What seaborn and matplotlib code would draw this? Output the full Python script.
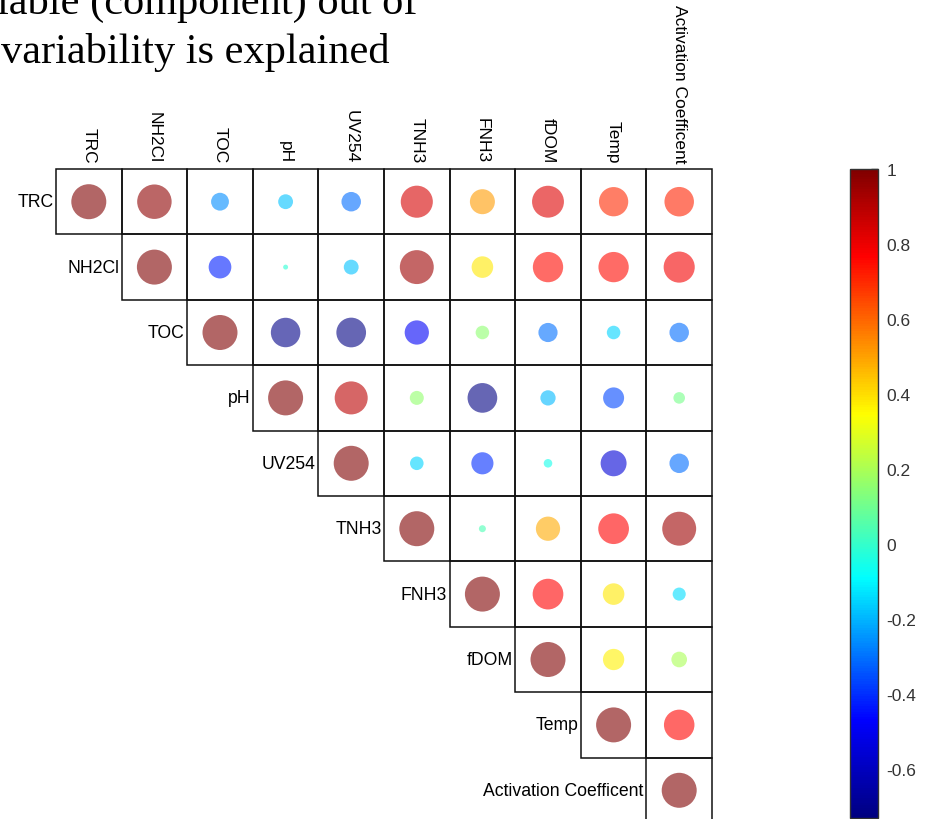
import matplotlib
matplotlib.use('Agg')
import matplotlib.pyplot as plt
import numpy as np
import pandas as pd
import seaborn as sns
from matplotlib.colors import LinearSegmentedColormap, Normalize
from matplotlib.patches import Rectangle
from matplotlib.cm import ScalarMappable

labels = ['TRC', 'NH2Cl', 'TOC', 'pH', 'UV254', 'TNH3', 'FNH3', 'fDOM', 'Temp',
          'Activation Coefficent']

# upper triangle of the correlation matrix, each row starts at the diagonal
r_trc = [1.00, 0.97, -0.26, -0.18, -0.31, 0.84, 0.51, 0.83, 0.70, 0.71]
r_nh2cl = [1.00, -0.42, -0.02, -0.18, 0.94, 0.38, 0.75, 0.75, 0.79]
r_toc = [1.00, -0.71, -0.72, -0.48, 0.15, -0.30, -0.15, -0.31]
r_ph = [1.00, 0.89, 0.16, -0.72, -0.19, -0.36, 0.11]
r_uv254 = [1.00, -0.15, -0.40, -0.06, -0.55, -0.31]
r_tnh3 = [1.00, 0.04, 0.48, 0.77, 0.94]
r_fnh3 = [1.00, 0.77, 0.38, -0.14]
r_fdom = [1.00, 0.37, 0.20]
r_temp = [1.00, 0.76]
r_act = [1.00]
rows = [r_trc, r_nh2cl, r_toc, r_ph, r_uv254, r_tnh3, r_fnh3, r_fdom, r_temp, r_act]

# colour bar range and jet-like anchors
vmin, vmax = -0.73, 1.0
cmap_vals = [-0.73, -0.47, -0.09, 0.345, 0.77, 1.0]
cmap_cols = ['#000080', '#0000ff', '#00ffff', '#ffff00', '#ff0000', '#800000']
cbar_ticks = [1, 0.8, 0.6, 0.4, 0.2, 0, -0.2, -0.4, -0.6]

title1 = 'iable (component) out of'
title2 = 'variability is explained'

recs = []
for i, vals in enumerate(rows):
    for k, v in enumerate(vals):
        recs.append({'row': i, 'col': i + k, 'r': v, 'absr': abs(v)})
df = pd.DataFrame(recs)

sns.set_style('white')
plt.rcParams['font.family'] = ['Liberation Sans', 'DejaVu Sans']
plt.rcParams['axes.unicode_minus'] = False

cmap = LinearSegmentedColormap.from_list(
    'jetlike', [((v - vmin) / (vmax - vmin), c) for v, c in zip(cmap_vals, cmap_cols)])
norm = Normalize(vmin=vmin, vmax=vmax)

W, H = 931, 820
fig = plt.figure(figsize=(W / 100, H / 100), dpi=100)
ax = fig.add_axes([56 / W, -4 / H, 656 / W, 654 / H])

n = len(labels)
for i in range(n):
    for j in range(i, n):
        ax.add_patch(Rectangle((j - 0.5, i - 0.5), 1, 1, fill=False,
                               ec='#111111', lw=1.1, zorder=1, clip_on=False))

sns.scatterplot(data=df, x='col', y='row', hue='r', palette=cmap, hue_norm=norm,
                size='absr', sizes=(0, 635), size_norm=(0, 1), alpha=0.6,
                linewidth=0, legend=False, ax=ax, zorder=2, clip_on=False)

ax.set_xlim(-0.5, n - 0.5)
ax.set_ylim(n - 0.5, -0.5)
ax.axis('off')

for i, name in enumerate(labels):
    ax.text(i - 0.54, i, name, ha='right', va='center', fontsize=12.7, color='black')
    ax.text(i, -0.6, name, rotation=-90, ha='center', va='bottom', fontsize=12.5,
            color='black')

cax = fig.add_axes([850 / W, 1 / H, 28 / W, 649 / H])
cb = fig.colorbar(ScalarMappable(norm=norm, cmap=cmap), cax=cax)
cb.set_ticks(cbar_ticks)
cb.set_ticklabels(['%g' % t for t in cbar_ticks])
cb.ax.tick_params(direction='in', length=5, width=1, color='#333333',
                  labelsize=12.5, labelcolor='#333333', pad=6)
cb.outline.set_edgecolor('#333333')
cb.outline.set_linewidth(1)

fig.text(-3 / W, 1 - 14 / H, title1, ha='left', va='baseline', fontsize=30.5,
         color='black', family=['Liberation Serif', 'DejaVu Serif'])
fig.text(1 / W, 1 - 63 / H, title2, ha='left', va='baseline', fontsize=30.5,
         color='black', family=['Liberation Serif', 'DejaVu Serif'])

fig.savefig('out.png', dpi=100)
